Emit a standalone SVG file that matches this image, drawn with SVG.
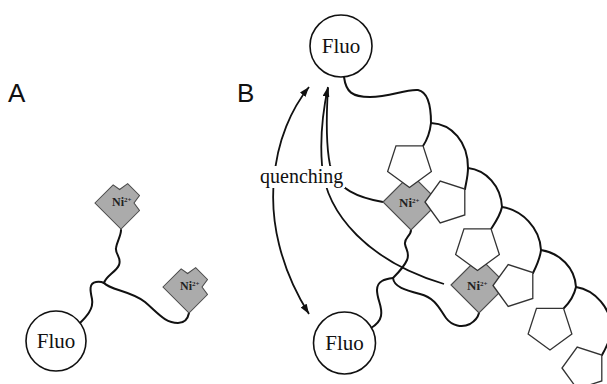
<svg xmlns="http://www.w3.org/2000/svg" xmlns:xlink="http://www.w3.org/1999/xlink" width="607" height="384" viewBox="0 0 607 384">
  <style>
    .chain { fill: none; stroke: #111; stroke-width: 2; stroke-linecap: round; }
    .arrow { fill: none; stroke: #111; stroke-width: 1.8; }
    .fluo { fill: #fff; stroke: #111; stroke-width: 1.6; }
    .fluo-t { font-family: "Liberation Serif", "Times New Roman", serif; font-size: 21px; fill: #111; text-anchor: middle; }
    .ni { fill: #ababab; stroke: #4a4a4a; stroke-width: 1.1; stroke-linejoin: miter; }
    .ni-t { font-family: "Liberation Serif", "Times New Roman", serif; font-weight: bold; fill: #222; }
    .ni-t tspan.sup { font-size: 7px; }
    .pent { fill: #fff; stroke: #333; stroke-width: 1.3; stroke-linejoin: miter; }
    .panel { font-family: "Liberation Sans", Arial, sans-serif; font-size: 26px; fill: #111; }
    .label { font-family: "Liberation Serif", "Times New Roman", serif; font-size: 20px; fill: #111; }
  </style>
  <defs>
    <marker id="head" viewBox="0 0 10 7" refX="10" refY="3.5" markerWidth="10" markerHeight="7" markerUnits="userSpaceOnUse" orient="auto-start-reverse">
      <path d="M0,0 L10,3.5 L0,7 z" fill="#111"/>
    </marker>
    <!-- Ni2+ site with its two empty binding notches -->
    <polygon id="niNotched" class="ni" points="-28,0 -8.45,-19.55 -1.5,-14.5 7.18,-20.81 19.89,-8.11 14,0 19.89,8.11 0,28"/>
    <!-- full Ni2+ site, notches covered by bound pentagons -->
    <polygon id="niFull" class="ni" points="-28,0 0,-28 28,0 0,28"/>
    <!-- pentagon pointing down -->
    <polygon id="pentDown" class="pent" points="0,23 -21.87,7.11 -13.52,-18.61 13.52,-18.61 21.87,7.11"/>
    <!-- pentagon pointing left -->
    <polygon id="pentLeft" class="pent" points="-22,0 -6.8,20.92 17.8,12.93 17.8,-12.93 -6.8,-20.92"/>
  </defs>

  <rect width="607" height="384" fill="#fff"/>

  <text class="panel" x="8" y="102">A</text>
  <text class="panel" x="237" y="102">B</text>

  <g id="connectors">
    <!-- panel A linker -->
    <path class="chain" d="M80,323 C86,317 94,309 92,299 C90,290 89,283 96,282 C100,281.5 102,282 104,283"/>
    <path class="chain" d="M104,283 C106,276 116,272 119,265 C122,258 115,254 116,248 C117,241 121,236 121,230"/>
    <path class="chain" d="M104,283 C110,290 132,291 145,302 C158,313 165,323 178,323 C185,323 188,318 189,313"/>

    <!-- panel B: upper fluorophore backbone -->
    <path class="chain" d="M344,77 C346,92 352,97 370,97 C390,97 405,89 418,90 C428,92 431,105 431,123"/>
    <path class="chain" d="M431,123 C430,132 427,140 423,146"/>
    <path class="chain" d="M431,123 C452,124 468,142 468,168"/>
    <path class="chain" d="M468,168 C468,176 466,183 465,189"/>
    <path class="chain" d="M468,168 C486,170 501,186 502,207"/>
    <path class="chain" d="M502,207 C500,216 495,223 491,229"/>
    <path class="chain" d="M502,207 C522,210 540,228 541,250"/>
    <path class="chain" d="M541,250 C540,259 536,267 533,273"/>
    <path class="chain" d="M541,250 C560,253 575,268 576,287"/>
    <path class="chain" d="M576,287 C574,296 569,303 564,308"/>
    <path class="chain" d="M576,287 C595,290 611,308 612,330"/>
    <path class="chain" d="M612,330 C610,340 606,348 602,355"/>

    <!-- panel B: lower fluorophore linker -->
    <path class="chain" d="M393,278 C385,279 377,281 377,290 C377,300 383,307 381,316 C380,321 376,325 371,328"/>
    <path class="chain" d="M411,230 C411,236 404,238 405,244 C406,250 410,253 407,260 C404,267 398,273 393,278"/>
    <path class="chain" d="M393,278 C394,287 405,290 420,294 C436,298 440,310 446,318 C452,326 462,328 470,324 C475,321 478,317 479,313"/>

    <!-- quenching arrows -->
    <path class="arrow" marker-start="url(#head)" marker-end="url(#head)" d="M309,314 C280,268 270,220 274,180 C277,140 292,108 309,87"/>
    <path class="arrow" marker-start="url(#head)" d="M328,87 C322,115 320,140 322,165 C326,215 370,262 444,284"/>
    <path class="arrow" d="M328,88 C326,120 327,150 330,165 C336,190 360,198 383,202"/>
  </g>

  <!-- label sits on a white patch that interrupts the arrows -->
  <g id="quenching">
    <rect x="259" y="166" width="86" height="22" fill="#fff"/>
    <text class="label" x="260" y="183">quenching</text>
  </g>

  <g id="fluoA">
    <circle class="fluo" cx="56" cy="341" r="30"/>
    <text class="fluo-t" x="56" y="348">Fluo</text>
  </g>
  <g id="niA1">
    <use xlink:href="#niNotched" transform="translate(121,203) scale(0.93)"/>
    <text class="ni-t" x="112" y="206" font-size="12">Ni<tspan class="sup" dy="-4">2+</tspan></text>
  </g>
  <g id="niA2">
    <use xlink:href="#niNotched" transform="translate(189,287) scale(0.93)"/>
    <text class="ni-t" x="180" y="290" font-size="12">Ni<tspan class="sup" dy="-4">2+</tspan></text>
  </g>

  <g id="fluoB1">
    <circle class="fluo" cx="341" cy="46" r="31"/>
    <text class="fluo-t" x="341" y="53">Fluo</text>
  </g>
  <g id="fluoB2">
    <circle class="fluo" cx="344.5" cy="343" r="31"/>
    <text class="fluo-t" x="344.5" y="350">Fluo</text>
  </g>

  <g id="niB1">
    <use xlink:href="#niFull" transform="translate(411,202)"/>
    <use xlink:href="#pentDown" transform="translate(409.5,164.5)"/>
    <use xlink:href="#pentLeft" transform="translate(447,202)"/>
    <text class="ni-t" x="399" y="207" font-size="13">Ni<tspan class="sup" dy="-4.5">2+</tspan></text>
  </g>
  <g id="niB2">
    <use xlink:href="#niFull" transform="translate(479,285)"/>
    <use xlink:href="#pentDown" transform="translate(477.5,247.5)"/>
    <use xlink:href="#pentLeft" transform="translate(515,285.5)"/>
    <text class="ni-t" x="467" y="290" font-size="13">Ni<tspan class="sup" dy="-4.5">2+</tspan></text>
  </g>
  <g id="pentB5">
    <use xlink:href="#pentDown" transform="translate(550,327)"/>
  </g>
  <g id="pentB6">
    <use xlink:href="#pentLeft" transform="translate(584,368)"/>
  </g>
</svg>
